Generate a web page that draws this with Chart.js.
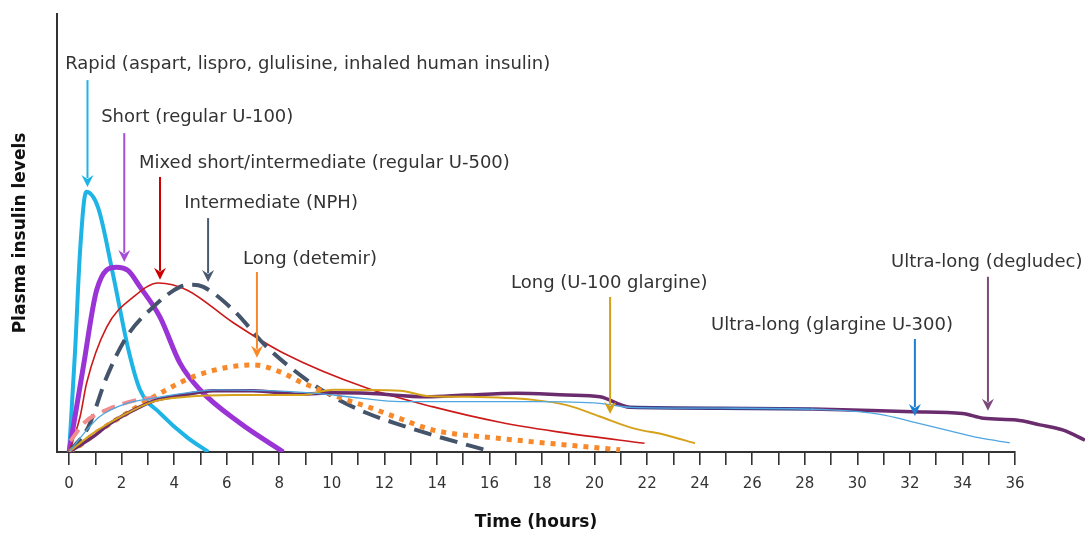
<!DOCTYPE html>
<html><head><meta charset="utf-8">
<script src="https://cdn.jsdelivr.net/npm/chart.js@4.4.0/dist/chart.umd.min.js"></script>
<style>html,body{margin:0;padding:0;background:#fff}</style>
</head><body>
<canvas id="c" width="1085" height="534"></canvas>
<script>
// ---- data (hours, relative plasma insulin level) ----
const hourTicks = [0,1,2,3,4,5,6,7,8,9,10,11,12,13,14,15,16,17,18,19,20,21,22,23,24,25,26,27,28,29,30,31,32,33,34,35,36];
const xRange = [-0.46, 36];

const rapidHours = [0, 0.23, 0.42, 0.65, 1.11, 1.69, 2.26, 2.7, 3.46, 4.48, 5.3];
const rapidLevel = [0, 23.3, 46.1, 59.4, 55.7, 40.0, 23.3, 14.2, 8.9, 3.4, 0];

const shortHours = [0, 0.54, 1.05, 1.8, 2.25, 2.7, 3.46, 4.22, 4.98, 6.5, 8.15];
const shortLevel = [0, 19.4, 37.0, 42.2, 41.4, 37.7, 30.8, 20.3, 14.2, 6.6, 0];

const mixedHours = [0, 0.42, 0.67, 1.43, 2.45, 3.4, 4.48, 6.25, 8.15, 11.33, 13.86, 16.4, 18.94, 21.9];
const mixedLevel = [0, 8.1, 15.8, 28.5, 35.4, 38.6, 37.0, 29.5, 22.6, 14.6, 10.3, 6.8, 4.3, 2.0];

const nphHours = [0, 0.73, 1.43, 2.19, 3.2, 4.22, 4.7, 5.11, 6.25, 7.52, 8.9, 10.05, 11.33, 12.6, 14.1, 15.83];
const nphLevel = [0, 5.7, 17.1, 26.3, 33.1, 37.7, 38.2, 37.7, 32.4, 24.0, 17.1, 12.6, 8.9, 6.2, 3.4, 0.5];

const detemirHours = [0, 0.53, 0.92, 2.19, 3.46, 4.73, 6.0, 7.0, 8.15, 8.8, 9.42, 10.69, 11.33, 12.6, 13.86, 16.4, 18.94, 20.97];
const detemirLevel = [0, 2.0, 3.9, 8.8, 13.4, 17.2, 19.3, 19.9, 18.0, 16.0, 14.5, 11.6, 10.4, 7.6, 5.0, 3.1, 1.6, 0.5];

const pinkHours = [0.05, 0.6, 1.5, 2.6, 3.3];
const pinkLevel = [2.5, 6.8, 9.8, 11.9, 12.4];

const glargineHours = [0, 0.92, 2.19, 3.2, 4.48, 6.25, 8.79, 10.05, 12.6, 13.6, 15.13, 17.67, 18.94, 20.2, 21.48, 22.7, 23.82];
const glargineLevel = [0, 4.3, 8.8, 11.5, 12.6, 13.0, 13.0, 14.2, 14.0, 12.8, 12.6, 11.9, 10.7, 8.1, 5.4, 3.9, 2.0];

const u300Hours = [0, 0.67, 1.17, 2.19, 3.2, 4.48, 5.62, 7.52, 9.42, 11.07, 12.6, 17.7, 20.2, 21.35, 24.77, 28.96, 30.86, 32.1, 33.4, 34.66, 35.8];
const u300Level = [0, 5.0, 8.1, 11.1, 12.3, 13.5, 14.2, 14.0, 13.4, 12.3, 11.5, 11.5, 11.1, 10.2, 10.0, 9.6, 8.6, 6.9, 5.0, 3.2, 2.1];

const degludecHours = [0, 0.92, 1.56, 2.7, 3.34, 4.35, 5.49, 7.0, 8.79, 10.06, 11.33, 13.6, 15.13, 17.04, 18.94, 20.2, 21.35, 24.77, 28.3, 32.1, 34.0, 34.8, 36.05, 36.95, 37.84, 38.66];
const degludecLevel = [0, 3.5, 6.5, 10.3, 11.9, 13.0, 14.0, 14.0, 13.2, 13.5, 13.4, 12.6, 13.0, 13.4, 13.0, 12.6, 10.2, 10.0, 9.8, 9.2, 8.8, 7.7, 7.3, 6.2, 5.0, 2.7];

// ---- annotations: label text, label left (hours), label level, arrow x (hours), arrow top, arrow tip ----
const labelTexts = [
  'Rapid (aspart, lispro, glulisine, inhaled human insulin)',
  'Short (regular U-100)',
  'Mixed short/intermediate (regular U-500)',
  'Intermediate (NPH)',
  'Long (detemir)',
  'Long (U-100 glargine)',
  'Ultra-long (glargine U-300)',
  'Ultra-long (degludec)'
];
const labelHours = [-0.15, 1.22, 2.66, 4.38, 6.62, 16.82, 24.43, 31.28];
const labelLevels = [88.4, 76.3, 66.0, 56.8, 44.1, 38.4, 29.0, 43.4];
const arrowHours = [0.7, 2.1, 3.46, 5.29, 7.15, 20.59, 32.19, 34.97];
const arrowTops = [84.9, 72.8, 62.8, 53.4, 41.1, 35.4, 25.8, 40.0];
const arrowTips = [60.5, 43.4, 39.3, 38.8, 21.5, 8.7, 8.2, 9.4];
const arrowColors = ['#1eb4e6', '#a64fd6', '#cc0000', '#4a5a70', '#f7892b', '#d4a017', '#1a7fd0', '#7a4a7c'];

const pts = (xs, ys) => xs.map((x, i) => ({x: x, y: ys[i]}));

const annotate = {
  id: 'annotate',
  afterDatasetsDraw(chart) {
    const {ctx, scales: {x, y}} = chart;
    ctx.save();
    ctx.font = '18px "DejaVu Sans"';
    ctx.textAlign = 'left';
    ctx.textBaseline = 'middle';
    labelTexts.forEach((t, i) => {
      ctx.fillStyle = '#333';
      ctx.fillText(t, x.getPixelForValue(labelHours[i]), y.getPixelForValue(labelLevels[i]));
      const ax = x.getPixelForValue(arrowHours[i]);
      const top = y.getPixelForValue(arrowTops[i]);
      const tip = y.getPixelForValue(arrowTips[i]);
      const head = 12, half = 6;
      ctx.strokeStyle = arrowColors[i];
      ctx.fillStyle = arrowColors[i];
      ctx.lineWidth = 2;
      ctx.beginPath();
      ctx.moveTo(ax, top);
      ctx.lineTo(ax, tip - head + 3);
      ctx.stroke();
      ctx.beginPath();
      ctx.moveTo(ax - half, tip - head);
      ctx.lineTo(ax, tip - head + 4);
      ctx.lineTo(ax + half, tip - head);
      ctx.lineTo(ax, tip);
      ctx.closePath();
      ctx.fill();
    });
    ctx.restore();
  }
};

const base = {fill: false, pointRadius: 0, pointHoverRadius: 0, cubicInterpolationMode: 'monotone'};

new Chart(document.getElementById('c'), {
  type: 'line',
  data: {
    datasets: [
      Object.assign({}, base, {label: 'Ultra-long (glargine U-300)', data: pts(u300Hours, u300Level), borderColor: '#4ea6e0', borderWidth: 1.3}),
      Object.assign({}, base, {label: 'Long (U-100 glargine)', data: pts(glargineHours, glargineLevel), borderColor: '#d6a21c', borderWidth: 2}),
      Object.assign({}, base, {label: 'Ultra-long (degludec)', data: pts(degludecHours, degludecLevel), borderColor: '#6b2c6e', borderWidth: 3.5, clip: false,
        segment: {borderColor: c => (c.p0.parsed.x >= 20.4 && c.p1.parsed.x <= 29) ? '#463a80' : undefined}}),
      Object.assign({}, base, {label: 'pink', data: pts(pinkHours, pinkLevel), borderColor: '#f08c8c', borderWidth: 4, borderDash: [14, 8]}),
      Object.assign({}, base, {label: 'Long (detemir)', data: pts(detemirHours, detemirLevel), borderColor: '#f7892b', borderWidth: 5, borderDash: [5, 6]}),
      Object.assign({}, base, {label: 'Intermediate (NPH)', data: pts(nphHours, nphLevel), borderColor: '#44546a', borderWidth: 4, borderDash: [18, 9]}),
      Object.assign({}, base, {label: 'Mixed', data: pts(mixedHours, mixedLevel), borderColor: '#cc1a1a', borderWidth: 1.6}),
      Object.assign({}, base, {label: 'Short', data: pts(shortHours, shortLevel), borderColor: '#9b34d6', borderWidth: 5}),
      Object.assign({}, base, {label: 'Rapid', data: pts(rapidHours, rapidLevel), borderColor: '#1eb4e6', borderWidth: 4})
    ]
  },
  options: {
    responsive: false,
    animation: false,
    devicePixelRatio: 1,
    layout: {padding: {left: 0, right: 70, top: 14, bottom: 0}},
    plugins: {legend: {display: false}, tooltip: {enabled: false}},
    scales: {
      x: {
        type: 'linear', bounds: 'data',
        afterDataLimits: s => { s.min = xRange[0]; s.max = xRange[1]; },
        afterBuildTicks: s => { s.ticks = hourTicks.map(v => ({value: v})); },
        border: {display: true, color: '#333', width: 2},
        grid: {display: true, drawOnChartArea: false, drawTicks: true, tickLength: 13, color: '#333', lineWidth: 1.6},
        ticks: {autoSkip: false, maxRotation: 0, padding: 10,
          color: '#333', font: {family: 'DejaVu Sans', size: 15},
          callback: v => (v % 2 === 0 ? String(v) : '')},
        title: {display: true, text: 'Time (hours)', color: '#111', font: {family: 'DejaVu Sans', size: 17, weight: 'bold'}, padding: {top: 4, bottom: 1}},
        afterFit: s => { s.height = 82; }
      },
      y: {
        min: 0, max: 100,
        border: {display: true, color: '#333', width: 2},
        grid: {display: false},
        ticks: {display: false},
        title: {display: true, text: 'Plasma insulin levels', color: '#111', font: {family: 'DejaVu Sans', size: 17, weight: 'bold'}, padding: {top: 10, bottom: 0}},
        afterFit: s => { s.width = 57; }
      }
    }
  },
  plugins: [annotate]
});
</script>
</body></html>
